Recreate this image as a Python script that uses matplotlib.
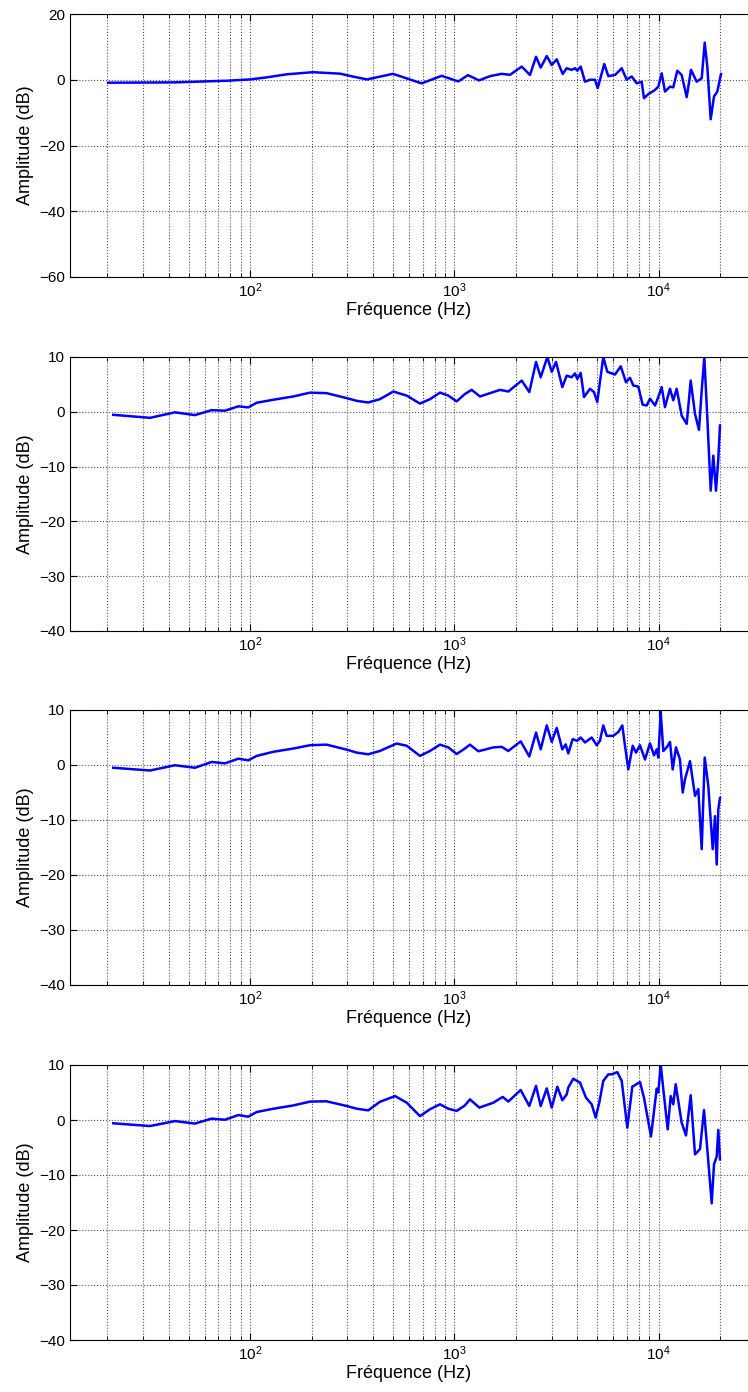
import matplotlib
matplotlib.use('Agg')
import matplotlib.pyplot as plt
import numpy as np

# frequency response readings (Hz, dB)

f1 = [20.2, 43, 76.9, 100, 120, 151, 203, 276, 320, 374, 501, 692, 867, 1046, 1167, 1321,
      1496, 1706, 1874,
      2138, 2347, 2512, 2648, 2835, 2998, 3172, 3393, 3549, 3754, 3897, 3999, 4157, 4363,
      4616, 4884, 5032, 5420, 5673, 6118, 6599, 6979, 7384, 7812, 8263, 8481, 8903, 9603,
      9966, 10356, 10747, 11370, 11800, 12343, 12970, 13725, 14406, 15364, 16255, 16815,
      17314, 17989, 18672, 19377, 20200]
a1 = [-0.9, -0.8, -0.3, 0.1, 0.7, 1.65, 2.3, 1.85, 0.95, 0.1, 1.8, -1.1, 1.2, -0.5, 1.4, -0.2,
      1.1, 1.8, 1.5,
      4.0, 1.45, 7.0, 3.7, 7.2, 4.5, 6.2, 1.75, 3.5, 3.0, 3.5, 2.75, 4.0, -0.6,
      0.0, 0.0, -2.6, 4.8, 1.1, 1.45, 3.5, 0.0, 1.0, -1.1, -0.6, -5.6, -4.4, -3.1,
      -2.1, 1.95, -3.6, -2.1, -2.3, 2.75, 1.45, -5.3, 3.0, -0.6, 0.45, 11.3,
      4.0, -12.0, -5.1, -3.6, 1.75]

f2 = [21.4, 32.4, 42.9, 53.8, 64.9, 75.4, 87.7, 98.1, 107.8, 130, 163, 197, 237, 297, 333,
      379, 432, 503, 585, 679, 760, 851, 935, 1027, 1127, 1216, 1336, 1674, 1838, 2138, 2329,
      2512, 2648, 2853, 2998,
      3147, 3378, 3549, 3754, 3897, 3999, 4157, 4314, 4616, 4829, 5010, 5360, 5609, 6118,
      6525, 6924, 7244, 7518, 7953, 8357, 8743, 9075, 9603, 9966, 10356, 10747, 11370,
      11800, 12260, 12970, 13725, 14357, 15073, 15766, 16255, 16738, 17314, 17989, 18523,
      19098, 19597, 19975]
a2 = [-0.55, -1.1, -0.1, -0.6, 0.3, 0.2, 1.0, 0.8, 1.65, 2.2, 2.8, 3.5, 3.4, 2.5, 2.0,
      1.7, 2.3, 3.7, 2.95, 1.5, 2.3, 3.5, 2.95, 1.9, 3.25, 4.0, 2.8, 4.0, 3.7, 5.7, 3.6,
      9.1, 6.3, 10.0, 7.3,
      9.1, 4.5, 6.6, 6.3, 7.0, 6.0, 7.1, 2.7, 4.2, 3.6, 1.8, 10.0, 7.3, 6.8,
      8.3, 5.4, 6.2, 4.8, 4.6, 1.3, 1.15, 2.4, 1.15, 2.7, 4.5, 0.85, 4.2,
      2.1, 4.2, -0.7, -2.2, 5.7, -0.4, -3.3, 3.9, 10.0, -1.0, -14.4, -8.0,
      -14.4, -8.6, -2.5]

f3 = [21.4, 32.4, 42.9, 53.8, 64.9, 75.4, 87.7, 98.1, 107.8, 130, 163, 197, 237, 297, 333,
      379, 432, 522, 585, 679, 760, 851, 935, 1027, 1127, 1193, 1311, 1553, 1706, 1838, 2113,
      2329, 2512, 2648, 2835,
      2998, 3172, 3378, 3510, 3614, 3797, 3999, 4157, 4363, 4705, 4977, 5164, 5360, 5570,
      6002, 6350, 6643, 6847, 7106, 7468, 7751, 8107, 8577, 9075, 9495, 9788, 9966, 10240,
      10545, 10955, 11370, 11720, 12163, 12723, 13120, 13465, 14245, 15073, 15643, 16255,
      16815, 17510, 18400, 18880, 19248, 19597, 19975]
a3 = [-0.5, -1.0, -0.05, -0.5, 0.55, 0.3, 1.15, 0.85, 1.65, 2.4, 3.0, 3.6, 3.7, 2.8, 2.25,
      1.95, 2.55, 3.9, 3.5, 1.65, 2.55, 3.7, 3.2, 2.0, 3.0, 3.7, 2.5, 3.2, 3.3, 2.55, 4.3,
      1.55, 5.9, 2.85, 7.2,
      4.2, 6.75, 2.85, 3.75, 2.1, 4.7, 4.4, 5.0, 4.1, 5.0, 3.6, 4.4, 7.2, 5.3,
      5.3, 6.0, 7.2, 3.5, -0.8, 3.5, 2.25, 3.6, 1.0, 3.95, 1.75, 2.85, 1.35, 9.7,
      2.55, 3.2, 4.2, -0.8, 3.2, 1.0, -5.0, -2.6, 0.7, -5.6, -4.4, -15.3,
      1.35, -3.8, -15.3, -9.3, -18.1, -8.1, -6.0]

f4 = [21.4, 32.4, 42.9, 53.8, 64.9, 75.4, 87.7, 98.1, 107.8, 130, 163, 197, 237, 297, 333,
      379, 432, 513, 585, 679, 760, 851, 935, 1027, 1127, 1193, 1326, 1553, 1726, 1838, 2113,
      2329, 2512, 2648, 2835,
      2998, 3193, 3378, 3549, 3614, 3823, 4124, 4413, 4705, 4920, 5124, 5360, 5673, 5894,
      6278, 6599, 7027, 7434, 8107, 8481, 9178, 9788, 9966, 10240, 10545, 11080, 11460,
      11800, 12123, 12970, 13618, 14357, 15073, 15945, 16680, 17314, 18193, 18672, 19248,
      19597, 19975]
a4 = [-0.6, -1.1, -0.2, -0.65, 0.25, 0.05, 0.9, 0.6, 1.45, 2.05, 2.65, 3.35, 3.4, 2.55, 2.05,
      1.75, 3.3, 4.35, 3.15, 0.7, 1.95, 2.85, 2.05, 1.65, 2.65, 3.75, 2.25, 3.15, 4.2, 3.35,
      5.45, 2.55, 6.2, 2.55, 5.75,
      2.25, 6.05, 3.6, 4.65, 5.9, 7.5, 6.8, 4.05, 2.85, 0.45, 3.15, 7.1, 8.3, 8.3,
      8.7, 7.1, -1.4, 6.05, 6.9, 4.05, -3.0, 5.7, 5.0, 10.1, 5.6, -1.7, 4.35,
      2.85, 6.5, -0.5, -2.8, 4.5, -6.25, -5.3, 1.8, -5.3, -15.15, -8.05, -6.65,
      -1.8, -7.15]

ylims = [(-60, 20), (-40, 10), (-40, 10), (-40, 10)]
yticks = [[-60, -40, -20, 0, 20], [-40, -30, -20, -10, 0, 10],
          [-40, -30, -20, -10, 0, 10], [-40, -30, -20, -10, 0, 10]]

plt.rcParams['font.family'] = ['Liberation Sans', 'DejaVu Sans']
plt.rcParams['mathtext.fontset'] = 'custom'
plt.rcParams['mathtext.rm'] = 'Liberation Sans'
plt.rcParams['mathtext.it'] = 'Liberation Sans'
plt.rcParams['axes.unicode_minus'] = True

fig = plt.figure(figsize=(7.48, 13.92), dpi=100)

# axes boxes in pixels: (top, bottom)
boxes = [(14, 277), (357, 631), (710, 985), (1065, 1340)]
H = 1392.0
left = 70 / 748.0

for i, (f, a) in enumerate([(f1, a1), (f2, a2), (f3, a3), (f4, a4)]):
    top, bot = boxes[i]
    ax = fig.add_axes([left, 1 - bot / H, 1.0 - left, (bot - top) / H])
    ax.semilogx(f, a, color='#0000ff', lw=1.8)
    ax.set_xlim(13.15, 27390)
    ax.set_ylim(*ylims[i])
    ax.set_yticks(yticks[i])
    ax.grid(True, which='major', axis='both', ls=':', color='#555555', lw=0.8)
    ax.grid(True, which='minor', axis='x', ls=':', color='#555555', lw=0.8)
    ax.tick_params(which='both', direction='in', top=True, right=False, labelsize=11)
    ax.tick_params(which='major', length=5)
    ax.tick_params(which='minor', length=3)
    ax.spines['right'].set_visible(False)
    ax.set_xlabel('Fréquence (Hz)', fontsize=13, labelpad=1)
    ax.set_ylabel('Amplitude (dB)', fontsize=13, labelpad=4)

plt.savefig('out.png', dpi=100)
